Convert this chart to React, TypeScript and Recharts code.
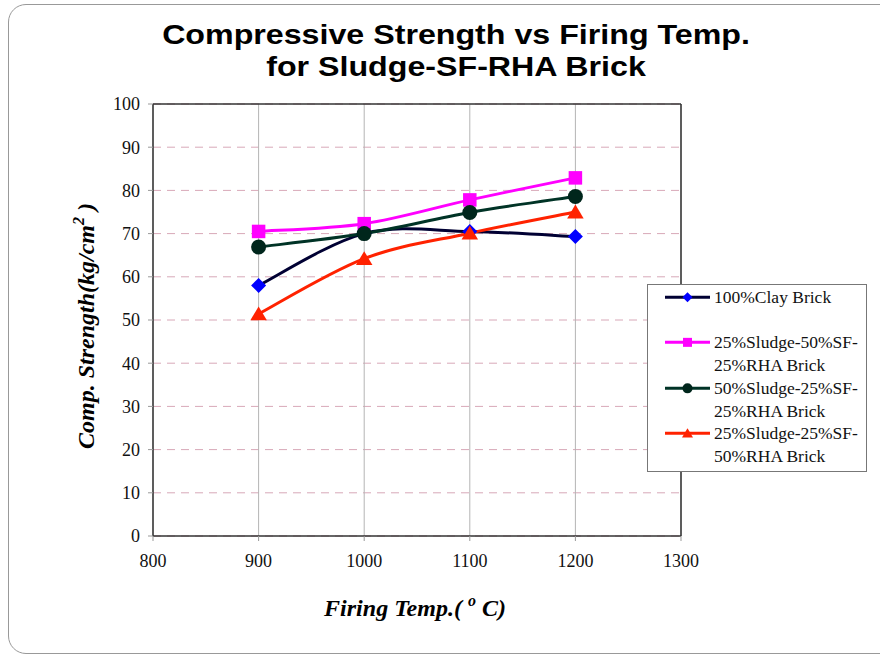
import React from 'react';
import {
  LineChart,
  Line,
  XAxis,
  YAxis,
  CartesianGrid,
  ReferenceLine,
} from 'recharts';

const temps = [900, 1000, 1100, 1200];
const clayBrick = [58, 70, 70.5, 69.3];
const sludge25sf50 = [70.5, 72.3, 77.8, 82.9];
const sludge50sf25 = [66.9, 70, 74.9, 78.6];
const sludge25rha50 = [51.4, 64.2, 70.1, 75];
const xTicks = [800, 900, 1000, 1100, 1200, 1300];
const yTicks = [0, 10, 20, 30, 40, 50, 60, 70, 80, 90, 100];

const data = temps.map((t, i) => ({
  temp: t,
  clay: clayBrick[i],
  s25sf50: sludge25sf50[i],
  s50sf25: sludge50sf25[i],
  s25rha50: sludge25rha50[i],
}));

const series = [
  { key: 'clay', name: '100%Clay Brick', line: '#000033', mark: '#0000ff', shape: 'diamond' },
  { key: 's25sf50', name: '25%Sludge-50%SF-25%RHA Brick', line: '#ff00ff', mark: '#ff00ff', shape: 'square' },
  { key: 's50sf25', name: '50%Sludge-25%SF-25%RHA Brick', line: '#003326', mark: '#00261c', shape: 'circle' },
  { key: 's25rha50', name: '25%Sludge-25%SF-50%RHA Brick', line: '#ff2200', mark: '#ff2200', shape: 'triangle' },
];

const legendText = [
  ['100%Clay Brick'],
  ['25%Sludge-50%SF-', '25%RHA Brick'],
  ['50%Sludge-25%SF-', '25%RHA Brick'],
  ['25%Sludge-25%SF-', '50%RHA Brick'],
];

const serif = '"Liberation Serif", "Times New Roman", serif';
const sans = '"Liberation Sans", Arial, sans-serif';

// spreadsheet-style smoothed line (uniform Catmull-Rom as cubic beziers)
const smoothCurve: any = (context: any) => {
  let pts: number[][] = [];
  return {
    areaStart() {},
    areaEnd() {},
    lineStart() {
      pts = [];
    },
    point(x: number, y: number) {
      pts.push([+x, +y]);
    },
    lineEnd() {
      if (!pts.length) return;
      context.moveTo(pts[0][0], pts[0][1]);
      for (let i = 0; i < pts.length - 1; i++) {
        const p0 = pts[i - 1] || pts[i];
        const p1 = pts[i];
        const p2 = pts[i + 1];
        const p3 = pts[i + 2] || pts[i + 1];
        context.bezierCurveTo(
          p1[0] + (p2[0] - p0[0]) / 6,
          p1[1] + (p2[1] - p0[1]) / 6,
          p2[0] - (p3[0] - p1[0]) / 6,
          p2[1] - (p3[1] - p1[1]) / 6,
          p2[0],
          p2[1],
        );
      }
    },
  };
};

function Marker({ shape, color, cx, cy, size }: any) {
  const s = size;
  if (shape === 'diamond') {
    return <polygon points={`${cx},${cy - s} ${cx + s},${cy} ${cx},${cy + s} ${cx - s},${cy}`} fill={color} />;
  }
  if (shape === 'square') {
    return <rect x={cx - s * 0.9} y={cy - s * 0.9} width={s * 1.8} height={s * 1.8} fill={color} />;
  }
  if (shape === 'circle') {
    return <circle cx={cx} cy={cy} r={s} fill={color} />;
  }
  return <polygon points={`${cx},${cy - s} ${cx + s * 1.1},${cy + s * 0.85} ${cx - s * 1.1},${cy + s * 0.85}`} fill={color} />;
}

const LH = 22.7;

function LegendBox() {
  return (
    <div
      style={{
        position: 'absolute',
        left: 647,
        top: 284,
        width: 220,
        height: 188,
        border: '1px solid #777',
        background: '#fff',
        boxSizing: 'border-box',
        padding: '1px 0 0 17px',
        fontFamily: serif,
        fontSize: 17.5,
        color: '#111',
      }}
    >
      {series.map((s, i) => (
        <div key={s.key} style={{ display: 'flex', alignItems: 'flex-start', marginBottom: i === 0 ? LH : 0, lineHeight: `${LH}px` }}>
          <svg width={46} height={LH} style={{ flex: 'none' }}>
            <line x1={0} y1={LH / 2} x2={45} y2={LH / 2} stroke={s.line} strokeWidth={3} />
            <Marker shape={s.shape} color={s.mark} cx={22.5} cy={LH / 2} size={5} />
          </svg>
          <div style={{ marginLeft: 3, whiteSpace: 'nowrap' }}>
            {legendText[i].map((t) => (
              <div key={t}>{t}</div>
            ))}
          </div>
        </div>
      ))}
    </div>
  );
}

export default function App() {
  return (
    <div style={{ position: 'absolute', left: 0, top: 0, width: 880, height: 656, overflow: 'hidden', background: '#fff' }}>
      <div
        style={{
          position: 'absolute',
          left: 8,
          top: 4,
          width: 900,
          height: 650,
          border: '1.5px solid #999',
          borderRadius: 18,
          boxSizing: 'border-box',
        }}
      />
      <div style={{ position: 'absolute', left: 0, top: 0 }}>
        <LineChart width={880} height={656} data={data} margin={{ top: 104, right: 199, left: 93, bottom: 90 }}>
          <CartesianGrid vertical={false} stroke="#d8a8b8" strokeDasharray="8 6" />
          <CartesianGrid horizontal={false} stroke="#b4b4b4" />
          <XAxis
            dataKey="temp"
            type="number"
            domain={[800, 1300]}
            ticks={xTicks}
            interval={0}
            height={30}
            axisLine={{ stroke: '#333', strokeWidth: 1.5 }}
            tickLine={{ stroke: '#999' }}
            tickSize={5}
            tickMargin={13}
            tick={{ fill: '#111', fontFamily: serif, fontSize: 18 }}
          />
          <YAxis
            type="number"
            domain={[0, 100]}
            ticks={yTicks}
            interval={0}
            width={60}
            axisLine={{ stroke: '#333', strokeWidth: 1.5 }}
            tickLine={{ stroke: '#999' }}
            tickSize={5}
            tickMargin={8}
            tick={{ fill: '#111', fontFamily: serif, fontSize: 18 }}
          />
          <ReferenceLine y={100} stroke="#333" strokeWidth={1.5} />
          <ReferenceLine x={1300} stroke="#333" strokeWidth={1.5} />
          {series.map((s) => (
            <Line
              key={s.key}
              dataKey={s.key}
              name={s.name}
              type={smoothCurve}
              stroke={s.line}
              strokeWidth={3}
              isAnimationActive={false}
              activeDot={false}
              dot={(p: any) => (
                <Marker key={`${s.key}-${p.index}`} shape={s.shape} color={s.mark} cx={p.cx} cy={p.cy} size={7.5} />
              )}
            />
          ))}
        </LineChart>
      </div>
      <LegendBox />
      <svg width={880} height={656} style={{ position: 'absolute', left: 0, top: 0, pointerEvents: 'none' }}>
        <g transform="translate(456, 44) scale(1.15, 1)">
          <text x={0} y={0} textAnchor="middle" fontFamily={sans} fontWeight="bold" fontSize={28} fill="#000">
            Compressive Strength vs Firing Temp.
          </text>
        </g>
        <g transform="translate(456, 76) scale(1.15, 1)">
          <text x={0} y={0} textAnchor="middle" fontFamily={sans} fontWeight="bold" fontSize={28} fill="#000">
            for Sludge-SF-RHA Brick
          </text>
        </g>
        <text
          transform="translate(94, 326) rotate(-90)"
          textAnchor="middle"
          fontFamily={serif}
          fontWeight="bold"
          fontStyle="italic"
          fontSize={24}
          fill="#000"
          style={{ whiteSpace: 'pre' }}
        >
          <tspan>Comp. Strength(kg/cm</tspan>
          <tspan dy={-10} fontSize={16}>2</tspan>
          <tspan dy={10}> )</tspan>
        </text>
        <text
          x={415}
          y={616}
          textAnchor="middle"
          fontFamily={serif}
          fontWeight="bold"
          fontStyle="italic"
          fontSize={24}
          fill="#000"
          style={{ whiteSpace: 'pre' }}
        >
          <tspan>Firing Temp.( </tspan>
          <tspan dy={-10} fontSize={16}>o</tspan>
          <tspan dy={10}> C)</tspan>
        </text>
      </svg>
    </div>
  );
}
